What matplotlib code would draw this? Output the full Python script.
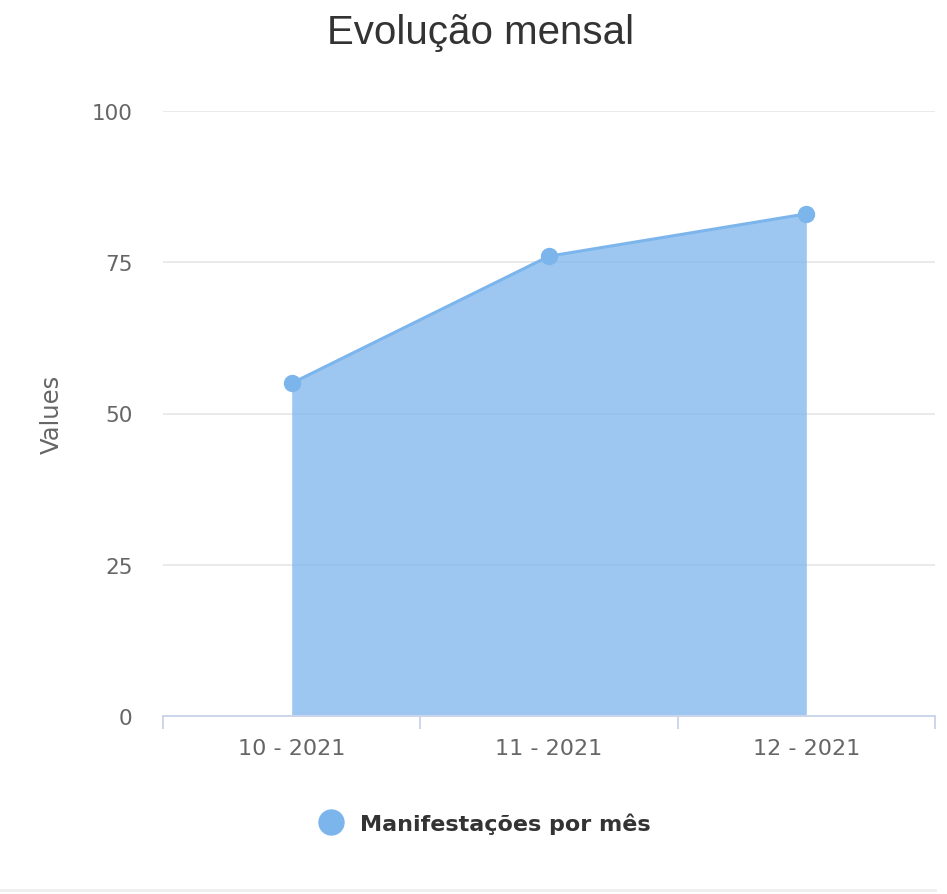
import matplotlib.pyplot as plt
from matplotlib.lines import Line2D

# data
months = ["10 - 2021", "11 - 2021", "12 - 2021"]
values = [55, 76, 83]
series_name = "Manifestações por mês"
y_ticks = [0, 25, 50, 75, 100]

blue = "#7cb5ec"
grid_c = "#e6e6e6"
axis_c = "#ccd6eb"
label_c = "#666666"

fig = plt.figure(figsize=(9.47, 8.95), dpi=100)
ax = fig.add_axes([163 / 947, 1 - 717 / 895, 772 / 947, 605 / 895])

x = list(range(len(months)))
ax.fill_between(x, values, 0, color=blue, alpha=0.75, linewidth=0, zorder=2)
ax.plot(x, values, color=blue, linewidth=2.2, marker="o", markersize=11.5,
        zorder=3, clip_on=False)

ax.set_xlim(-0.5, len(months) - 0.5)
ax.set_ylim(0, 100)
ax.set_yticks(y_ticks)
ax.set_xticks(x)
ax.set_xticklabels(months)
ax.set_xticks([i - 0.5 for i in range(len(months) + 1)], minor=True)

ax.grid(axis="y", color=grid_c, linewidth=1.2, zorder=1)
ax.set_axisbelow(True)
for side in ["top", "right", "left"]:
    ax.spines[side].set_visible(False)
ax.spines["bottom"].set_color(axis_c)
ax.spines["bottom"].set_linewidth(1.4)
ax.spines["bottom"].set_zorder(4)

ax.tick_params(axis="y", length=0, pad=22, labelsize=15.5, labelcolor=label_c)
ax.tick_params(axis="x", which="major", length=0, pad=16, labelsize=16,
               labelcolor=label_c)
ax.tick_params(axis="x", which="minor", length=9, width=1.4, color=axis_c)

ax.set_ylabel("Values", fontsize=17.5, color=label_c)
ax.yaxis.set_label_coords(-0.128, 0.5)

fig.text(481 / 947, 1 - 33 / 895, "Evolução mensal", ha="center", va="center",
         fontsize=29, color="#333333",
         family=["Liberation Sans", "DejaVu Sans"])

handle = Line2D([], [], marker="o", linestyle="", color=blue, markersize=18)
leg = fig.legend([handle], [series_name], loc="center",
                 bbox_to_anchor=(480 / 947, 1 - 824 / 895), frameon=False,
                 handletextpad=0.3, prop={"size": 16, "weight": "bold"})
for t in leg.get_texts():
    t.set_color("#333333")

fig.add_artist(Line2D([0, 935 / 947], [1 - 891 / 895, 1 - 891 / 895],
                      color="#eeeeee", linewidth=2))

fig.savefig("out.png", dpi=100)
